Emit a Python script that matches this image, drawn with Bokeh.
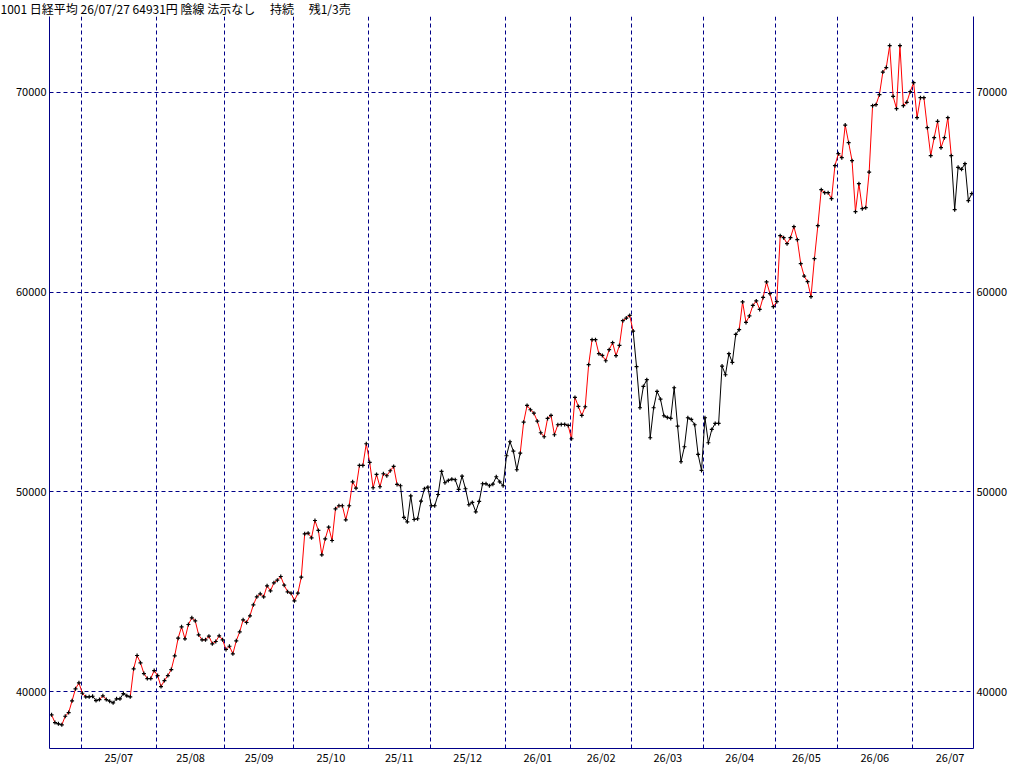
import numpy as np
from bokeh.plotting import figure
from bokeh.models import ColumnDataSource, FixedTicker, LinearAxis, Range1d
from bokeh.embed import file_html
from bokeh.resources import INLINE

title_text = "1001 日経平均 26/07/27 64931円 陰線 法示なし　 持続　 残1/3売"

month_labels = ["25/07", "25/08", "25/09", "25/10", "25/11", "25/12", "26/01",
                "26/02", "26/03", "26/04", "26/05", "26/06", "26/07"]
days_before_first_month = 9
month_days = [22, 20, 20, 22, 18, 22, 19, 18, 21, 21, 18, 22, 18]
month_days_full = [22, 20, 20, 22, 18, 22, 19, 18, 21, 21, 18, 22, 22]

y_ticks = [40000, 50000, 60000, 70000]

closes = [
    # 2025/06
    38835, 38450, 38385, 38335, 38765, 38950, 39536, 40137, 40437,
    # 2025/07
    39917, 39736, 39736, 39766, 39551, 39601, 39786, 39601, 39516, 39436, 39636,
    39636, 39902, 39786, 39736, 41138, 41805, 41439, 40903, 40653, 40653, 41053,
    # 2025/08
    40803, 40252, 40553, 40803, 41103, 41789, 42671, 43242, 42641, 43357,
    43693, 43542, 42841, 42591, 42591, 42771, 42391, 42506, 42791, 42591,
    # 2025/09
    42105, 42270, 41889, 42541, 42991, 43592, 43457, 43793, 44344, 44744,
    44895, 44744, 45295, 45045, 45445, 45576, 45761, 45325, 44995, 44925,
    # 2025/10
    44544, 44925, 45726, 47899, 47929, 47699, 48565, 48065, 46848, 47649, 48230,
    47564, 49151, 49302, 49302, 48600, 49302, 50503, 50183, 51320, 51320, 52407,
    # 2025/11
    51470, 50203, 50869, 50253, 50904, 50804, 51054, 51270, 50368,
    50303, 48716, 48500, 49802, 48615, 48651, 49532, 50153, 50233,
    # 2025/12
    49302, 49302, 49867, 51019, 50453, 50569, 50634, 50604, 50118, 50784, 50153,
    49352, 49467, 49001, 49517, 50403, 50403, 50303, 50383, 50754, 50503, 50303,
    # 2026/01
    51806, 52507, 52036, 51104, 51936, 53488, 54325, 54109, 53939, 53538,
    52957, 52757, 53674, 53824, 52857, 53358, 53373, 53373, 53323,
    # 2026/02
    52657, 54725, 54275, 53824, 54260, 56363, 57615, 57615, 56914,
    56829, 56563, 57114, 57465, 56814, 57329, 58566, 58697, 58832,
    # 2026/03
    58046, 56263, 54210, 55276, 55612, 52707, 54210, 55026, 54640, 53809, 53724,
    53674, 55211, 53288, 51505, 52256, 53709, 53623, 53358, 51871, 51069,
    # 2026/04
    53709, 52457, 53123, 53423, 53423, 56293, 55862, 56914, 56478, 57880, 58116,
    59508, 58481, 58807, 59333, 59558, 59132, 59733, 60509, 59919, 59267,
    # 2026/05
    59518, 62823, 62723, 62423, 62723, 63274, 62623, 61421, 60800,
    60519, 59768, 61671, 63324, 65127, 64977, 64977, 64676, 66329,
    # 2026/06
    66930, 66729, 68362, 67481, 66579, 64025, 65427, 64175, 64225, 66008, 69334,
    69384, 69884, 71016, 71237, 72338, 69799, 69183, 72338, 69334, 69499, 70035,
    # 2026/07
    70485, 68733, 69734, 69734, 68232, 66830, 67731, 68547, 67230,
    67731, 68733, 66830, 64125, 66244, 66143, 66429, 64576, 64931,
]

# runs of segments (segment k joins day k and day k+1) drawn in red, inclusive
red_runs = [(0, 0), (3, 9), (14, 15), (23, 101), (137, 169), (201, 262)]

GRID = "#000088"
AXIS = "#000088"
FONT = "Noto Sans CJK JP"

X_START, X_END = -0.6, 269.5
Y_START, Y_END = 37150, 73796

n = len(closes)
idx = np.arange(n)
ys = np.array(closes, dtype=float)

seg_color = ["black"] * (n - 1)
for a, b in red_runs:
    for k in range(a, b + 1):
        seg_color[k] = "#FF0000"

seg_src = ColumnDataSource(dict(x0=idx[:-1], y0=ys[:-1], x1=idx[1:], y1=ys[1:], c=seg_color))
pt_src = ColumnDataSource(dict(x=idx, y=ys))

starts = days_before_first_month + np.concatenate([[0], np.cumsum(month_days)[:-1]])
bounds = starts - 0.35
label_pos = bounds + np.array(month_days_full) / 2.0

p = figure(width=1024, height=770,
           x_range=Range1d(X_START, X_END), y_range=Range1d(Y_START, Y_END),
           output_backend="svg", toolbar_location=None,
           min_border_left=49, min_border_right=51, min_border_top=0, min_border_bottom=16,
           background_fill_color="white", border_fill_color="white",
           outline_line_color=None, margin=(-3, 0, 0, 0))

p.title.text = title_text
p.title.text_font = FONT
p.title.text_font_size = "12px"
p.title.text_font_style = "normal"
p.title.text_color = "black"
p.title.align = "left"
p.title.offset = -49
p.title.standoff = 0

right_axis = LinearAxis()
p.add_layout(right_axis, "right")

for ax in [p.yaxis[0], right_axis]:
    ax.ticker = FixedTicker(ticks=y_ticks)
    ax.major_label_overrides = {t: str(t) for t in y_ticks}
    ax.major_tick_in = 0
    ax.major_tick_out = 0
    ax.minor_tick_in = 0
    ax.minor_tick_out = 0
    ax.axis_line_color = AXIS
    ax.axis_line_width = 1
    ax.major_label_text_font = FONT
    ax.major_label_text_font_size = "11px"
    ax.major_label_text_color = "black"
    ax.major_label_standoff = 3

xa = p.xaxis[0]
xa.ticker = FixedTicker(ticks=list(label_pos))
xa.major_label_overrides = {float(v): lab for v, lab in zip(label_pos, month_labels)}
xa.major_tick_in = 0
xa.major_tick_out = 0
xa.minor_tick_in = 0
xa.minor_tick_out = 0
xa.major_label_standoff = 0
xa.major_label_text_font = FONT
xa.major_label_text_font_size = "11px"
xa.major_label_text_line_height = 0.9
xa.major_label_text_color = "black"
xa.axis_line_color = AXIS
xa.axis_line_width = 1

p.xgrid.ticker = FixedTicker(ticks=list(bounds))
p.ygrid.ticker = FixedTicker(ticks=y_ticks)
for g in [p.xgrid[0], p.ygrid[0]]:
    g.grid_line_color = GRID
    g.grid_line_dash = "4 3"
    g.grid_line_width = 1

p.segment("x0", "y0", "x1", "y1", source=seg_src, line_color="c", line_width=1)
p.scatter("x", "y", source=pt_src, marker="cross", size=4, line_color="black", line_width=1.2)

open("out.html", "w").write(file_html(p, INLINE))
